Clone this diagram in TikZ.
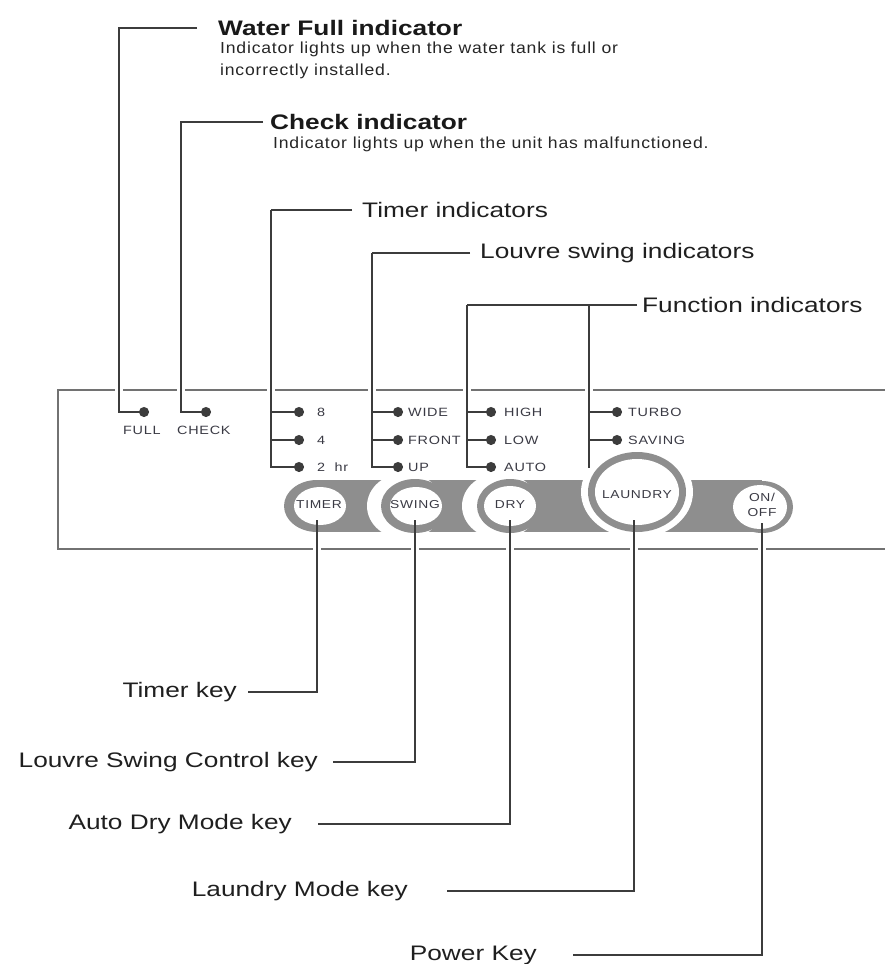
\documentclass[tikz,border=0pt]{standalone}
\usepackage{fontspec}
\setmainfont{Liberation Sans}[FakeStretch=1.25]
\newfontfamily\descfont{Liberation Sans}[FakeStretch=1.1,LetterSpace=5]
\newfontfamily\panelfont{Liberation Sans}[FakeStretch=1.2,LetterSpace=6]
\usetikzlibrary{arrows.meta,positioning}

\definecolor{leadgray}{HTML}{3C3C3C}
\definecolor{panelgray}{HTML}{727272}
\definecolor{bandgray}{HTML}{8E8E8E}
\definecolor{inkgray}{HTML}{3A3A44}

\begin{document}
\begin{tikzpicture}[x=1pt,y=-1pt,
  lead/.style={draw=leadgray,line width=1.5pt},
  led/.style={lead,-{Circle[length=10pt,width=10pt]}},
  title/.style={inner sep=0pt,font=\fontsize{21}{25}\selectfont\bfseries,text=black!90},
  desc/.style={anchor=north west,inner sep=0pt,align=left,font=\fontsize{16}{22}\descfont,text=black!85},
  callout/.style={inner sep=0pt,font=\fontsize{21}{25}\selectfont,text=black!88},
  tag/.style={anchor=west,inner sep=0pt,font=\fontsize{12}{14}\panelfont,text=inkgray},
  btntext/.style={inner sep=0pt,align=center,font=\fontsize{11.5}{15}\panelfont,text=inkgray}]

\useasboundingbox (0,0) rectangle (885,964);

% Panel outline, open to the right
\draw[panelgray,line width=2.5pt] (890,390) -- (58,390) -- (58,549) -- (890,549);
\foreach \x in {119,181,271,372,467,589} \fill[white] (\x-4,386) rectangle (\x+4,394);
\foreach \x in {317,415,510,634,762} \fill[white] (\x-4,545) rectangle (\x+4,553);

% Key band
\fill[bandgray] (317,480) rectangle (762,532);

% TIMER
\fill[bandgray] (317,506) ellipse [x radius=33pt, y radius=26pt];
\fill[white] (320,506) ellipse [x radius=26pt, y radius=19pt];
\node[btntext] (timer) at (319,505) {TIMER};

% SWING
\fill[white] (405,506) ellipse [x radius=38pt, y radius=33pt];
\fill[bandgray] (415,506) ellipse [x radius=34pt, y radius=27pt];
\fill[white] (416,506) ellipse [x radius=26pt, y radius=19pt];
\node[btntext] (swing) at (415,505) {SWING};

% DRY
\fill[white] (500,506) ellipse [x radius=38pt, y radius=33pt];
\fill[bandgray] (510,506) ellipse [x radius=33pt, y radius=27pt];
\fill[white] (510,506) ellipse [x radius=26pt, y radius=20pt];
\node[btntext] (dry) at (510,505) {DRY};

% LAUNDRY
\fill[white] (637,492) ellipse [x radius=56pt, y radius=46pt];
\fill[bandgray] (637,492) ellipse [x radius=49pt, y radius=40pt];
\fill[white] (637,492) ellipse [x radius=42pt, y radius=33pt];
\node[btntext] (laundry) at (637,495) {LAUNDRY};

% ON/OFF
\fill[bandgray] (762,507) ellipse [x radius=31pt, y radius=26pt];
\fill[white] (760,507) ellipse [x radius=27pt, y radius=22pt];
\node[btntext] (onoff) at (762,505) {ON/\\OFF};

% Indicator lamps
\coordinate (lfull) at (149,412);
\coordinate (lcheck) at (211,412);
\coordinate (l8) at (304,412);
\coordinate (l4) at (304,440);
\coordinate (l2) at (304,467);
\coordinate (lwide) at (403,412);
\coordinate (lfront) at (403,440);
\coordinate (lup) at (403,467);
\coordinate (lhigh) at (496,412);
\coordinate (llow) at (496,440);
\coordinate (lauto) at (496,467);
\coordinate (lturbo) at (622,412);
\coordinate (lsaving) at (622,440);

\node[tag] (tfull) at (123,430) {FULL};
\node[tag] (tcheck) at (177,430) {CHECK};
\node[tag] (t8) at (317,412) {8};
\node[tag] (t4) at (317,440) {4};
\node[tag] (t2) at (317,467) {2 \ hr};
\node[tag] (twide) at (408,412) {WIDE};
\node[tag] (tfront) at (408,440) {FRONT};
\node[tag] (tup) at (408,467) {UP};
\node[tag] (thigh) at (504,412) {HIGH};
\node[tag] (tlow) at (504,440) {LOW};
\node[tag] (tauto) at (504,467) {AUTO};
\node[tag] (tturbo) at (628,412) {TURBO};
\node[tag] (tsaving) at (628,440) {SAVING};

% Upper callouts
\coordinate (cfull) at (197,28);
\node[title,right=21pt of cfull] (wfull) {Water Full indicator};
\node[desc] (wfulltxt) at (220,42) {Indicator lights up when the water tank is full or\\incorrectly installed.};
\draw[led] (cfull) -- ++(-78,0) |- (lfull);

\coordinate (ccheck) at (263,122);
\node[title,right=7pt of ccheck] (chk) {Check indicator};
\node[desc] (chktxt) at (273,137) {Indicator lights up when the unit has malfunctioned.};
\draw[led] (ccheck) -- ++(-82,0) |- (lcheck);

\coordinate (ctim) at (352,210);
\node[callout,right=10pt of ctim] (tim) {Timer indicators};
\draw[lead] (ctim) -- ++(-81,0) coordinate (btim);
\foreach \l in {l8,l4,l2} \draw[led] (btim) |- (\l);

\coordinate (cswg) at (470,253);
\node[callout,right=10pt of cswg] (swg) {Louvre swing indicators};
\draw[lead] (cswg) -- ++(-98,0) coordinate (bswg);
\foreach \l in {lwide,lfront,lup} \draw[led] (bswg) |- (\l);

\coordinate (cfun) at (637,305);
\node[callout,right=5pt of cfun] (fun) {Function indicators};
\draw[lead] (cfun) -- ++(-170,0) coordinate (bfun);
\foreach \l in {lhigh,llow,lauto} \draw[led] (bfun) |- (\l);
\coordinate (bfun2) at (589,305);
\draw[lead] (bfun2) -- ++(0,163);
\foreach \l in {lturbo,lsaving} \draw[led] (bfun2) |- (\l);

% Lower callouts
\coordinate (btimer) at (317,520);
\coordinate (bswing) at (415,520);
\coordinate (bdry) at (510,520);
\coordinate (blaundry) at (634,520);
\coordinate (bonoff) at (762,523);

\coordinate (ktim) at (248,692);
\node[callout,left=11pt of ktim] (ktimtxt) {Timer key};
\draw[lead] (ktim) -| (btimer);

\coordinate (kswg) at (333,762);
\node[callout,left=15pt of kswg] (kswgtxt) {Louvre Swing Control key};
\draw[lead] (kswg) -| (bswing);

\coordinate (kdry) at (318,824);
\node[callout,left=26pt of kdry] (kdrytxt) {Auto Dry Mode key};
\draw[lead] (kdry) -| (bdry);

\coordinate (klau) at (447,891);
\node[callout,left=39pt of klau] (klautxt) {Laundry Mode key};
\draw[lead] (klau) -| (blaundry);

\coordinate (kpow) at (573,955);
\node[callout,left=36pt of kpow] (kpowtxt) {Power Key};
\draw[lead] (kpow) -| (bonoff);

\end{tikzpicture}
\end{document}
